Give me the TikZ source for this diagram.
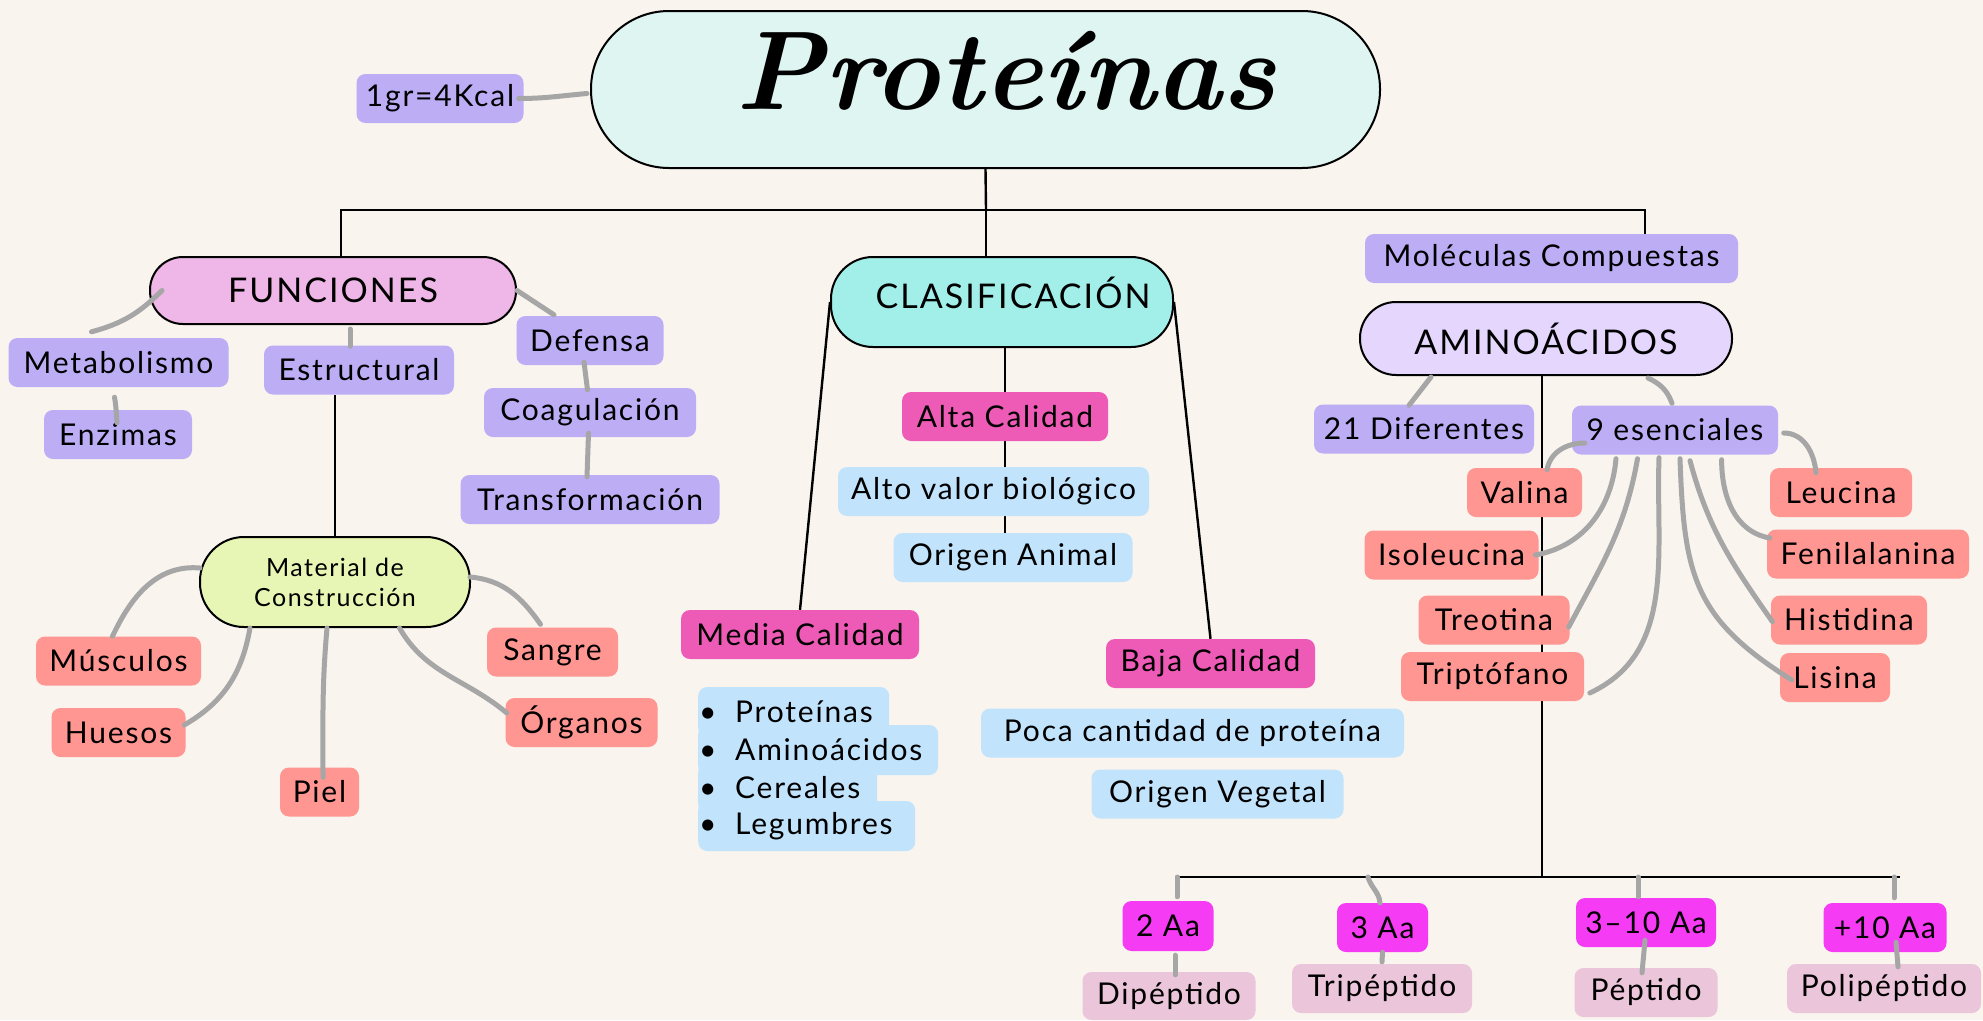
\documentclass[tikz,border=0pt]{standalone}
\usepackage{fontspec}
\setmainfont{Lato}[LetterSpace=6]
\newfontfamily\titlefont{Latin Modern Roman}
\usetikzlibrary{calc}
\definecolor{bgc}{HTML}{F9F4EE}
\definecolor{mint}{HTML}{DFF5F2}
\definecolor{orchid}{HTML}{EFB7E7}
\definecolor{aqua}{HTML}{A2EFEA}
\definecolor{lavender}{HTML}{E4D6FC}
\definecolor{lime}{HTML}{E7F6B4}
\definecolor{lilac}{HTML}{BCADF5}
\definecolor{salmon}{HTML}{FF9691}
\definecolor{rose}{HTML}{EE5BB7}
\definecolor{sky}{HTML}{C1E3FC}
\definecolor{fuchsia}{HTML}{F53BF3}
\definecolor{blush}{HTML}{EBC5D9}
\definecolor{greyline}{HTML}{A6A6A6}
\newcommand{\nudge}[3]{\hspace*{#1}\raisebox{#2}[\height][\depth]{#3}}
\newcommand{\listdot}{\makebox[36pt][l]{\textbullet}}
\pgfdeclarelayer{bg}
\pgfsetlayers{bg,main}
\tikzset{
  box/.style={rounded corners=9pt,inner sep=0pt,minimum height=49pt,
    font=\fontsize{30}{36}\selectfont},
  purplebox/.style={box,fill=lilac},
  salmonbox/.style={box,fill=salmon},
  pinkbox/.style={box,fill=rose},
  bluebox/.style={box,fill=sky},
  fuchsiabox/.style={box,fill=fuchsia},
  palebox/.style={box,fill=blush},
  capsule/.style={draw=black,line width=2pt,inner sep=0pt,
    font=\fontsize{34}{40}\selectfont},
  listrow/.style={bluebox,anchor=west,minimum height=50pt,inner xsep=1pt,align=left},
  gline/.style={draw=greyline,line width=5pt,line cap=round},
  bline/.style={draw=black,line width=2.4pt}
}

\begin{document}
\begin{tikzpicture}[x=1pt,y=1pt]
  \useasboundingbox (0,0) rectangle (1983,-1020);

  %--- Title -------------------------------------------------------------------
  \node[capsule,fill=mint,minimum width=789,minimum height=157,rounded corners=78] (title)
       at (985.5,-89.5) {\titlefont\bfseries\itshape\fontsize{112}{116}\selectfont\nudge{41pt}{19pt}{Proteínas}};
  \node[purplebox,minimum width=167] (kcal) at (440,-98.5) {1gr=4Kcal};

  %--- Main branches -----------------------------------------------------------
  \node[capsule,fill=orchid,minimum width=366,minimum height=67,rounded corners=33] (func)
       at (333,-290.5) {FUNCIONES};
  \node[capsule,fill=aqua,minimum width=342,minimum height=90,rounded corners=42] (clasif)
       at (1002,-302) {\nudge{22pt}{9pt}{CLASIFICACIÓN}};
  \node[purplebox,minimum width=373] (molec) at (1551.5,-258.5) {Moléculas Compuestas};
  \node[capsule,fill=lavender,minimum width=372,minimum height=73,rounded corners=36] (amino)
       at (1546,-338.5) {AMINOÁCIDOS};

  %--- Funciones ---------------------------------------------------------------
  \node[purplebox,minimum width=220] (metab) at (118.5,-362.5) {Metabolismo};
  \node[purplebox,minimum width=190] (estr)  at (359,-370) {Estructural};
  \node[purplebox,minimum width=147] (def)   at (590,-340.5) {Defensa};
  \node[purplebox,minimum width=148] (enz)   at (118,-434.5) {Enzimas};
  \node[purplebox,minimum width=212] (coag)  at (590,-412.5) {Coagulación};
  \node[purplebox,minimum width=259] (trans) at (590,-499.5) {Transformación};
  \node[capsule,fill=lime,minimum width=270,minimum height=90,rounded corners=44,align=center,
        font=\fontsize{25}{30}\selectfont] (mat) at (335,-582) {Material de\\Construcción};
  \node[salmonbox,minimum width=165] (musc) at (118.5,-661) {Músculos};
  \node[salmonbox,minimum width=134] (hues) at (118.5,-732.5) {Huesos};
  \node[salmonbox,minimum width=79]  (piel) at (319.5,-792) {Piel};
  \node[salmonbox,minimum width=131] (sang) at (552.5,-652) {Sangre};
  \node[salmonbox,minimum width=152] (org)  at (581.5,-722.5) {Órganos};

  %--- Clasificacion -----------------------------------------------------------
  \node[pinkbox,minimum width=206] (alta)    at (1005,-416.5) {Alta Calidad};
  \node[bluebox,minimum width=311] (alto)    at (993.5,-491.5) {Alto valor biológico};
  \node[bluebox,minimum width=239] (animal)  at (1013,-557.5) {Origen Animal};
  \node[pinkbox,minimum width=238] (media)   at (800,-634.5) {Media Calidad};
  \node[pinkbox,minimum width=209] (baja)    at (1210.5,-663.5) {Baja Calidad};
  \node[bluebox,minimum width=423] (poca)    at (1192.5,-733) {Poca cantidad de proteína};
  \node[bluebox,minimum width=252] (vegetal) at (1217.5,-794) {Origen Vegetal};
  \node[listrow,text width=189] (lprot)  at (698,-712) {\listdot Proteínas};
  \node[listrow,text width=238] (lamino) at (698,-750) {\listdot Aminoácidos};
  \node[listrow,text width=177] (lcer)   at (698,-788) {\listdot Cereales};
  \node[listrow,text width=215] (lleg)   at (698,-826) {\listdot Legumbres};

  %--- Aminoacidos -------------------------------------------------------------
  \node[purplebox,minimum width=220] (dif) at (1424,-429) {21 Diferentes};
  \node[purplebox,minimum width=206] (ess) at (1675,-430) {9 esenciales};
  \node[salmonbox,minimum width=115] (val)  at (1524.5,-492.5) {Valina};
  \node[salmonbox,minimum width=142] (leu)  at (1841,-492.5) {Leucina};
  \node[salmonbox,minimum width=174] (iso)  at (1451.5,-555) {Isoleucina};
  \node[salmonbox,minimum width=202] (feni) at (1868,-554) {Fenilalanina};
  \node[salmonbox,minimum width=151] (treo) at (1494,-620) {Treotina};
  \node[salmonbox,minimum width=156] (hist) at (1849,-620) {Histidina};
  \node[salmonbox,minimum width=183] (trip) at (1492.5,-676.5) {Triptófano};
  \node[salmonbox,minimum width=110] (lis)  at (1835,-677.5) {Lisina};

  \node[fuchsiabox,minimum width=91,minimum height=50] (aa2) at (1168,-926) {2 Aa};
  \node[fuchsiabox,minimum width=91]  (aa3)   at (1382.5,-927.5) {3 Aa};
  \node[fuchsiabox,minimum width=140] (aa310) at (1646,-922.5) {3–10 Aa};
  \node[fuchsiabox,minimum width=123] (aa10)  at (1885,-927.5) {+10 Aa};
  \node[palebox,minimum width=173,minimum height=48] (dip) at (1169,-996) {Dipéptido};
  \node[palebox,minimum width=180] (tri)  at (1382,-988.5) {Tripéptido};
  \node[palebox,minimum width=143] (pep)  at (1646,-992.5) {Péptido};
  \node[palebox,minimum width=194] (poli) at (1884,-988.5) {Polipéptido};

  \coordinate (hub)  at (986,-210);
  \coordinate (bar)  at (1542,-877);
  \coordinate (barL) at (1175,-877);
  \coordinate (barR) at (1900,-877);
  \coordinate (t2)   at (1177,-877);
  \coordinate (t3)   at (1368,-877);
  \coordinate (t310) at (1638,-877);
  \coordinate (t10)  at (1894,-877);

  %--- Black tree lines (behind the boxes) -------------------------------------
  \begin{pgfonlayer}{bg}
    \fill[bgc] (0,0) rectangle (1983,-1020);
    \draw[bline] (title.south) -- (hub);
    \draw[bline] ([xshift=8]func.north) |- (hub) -| ([xshift=93.5]molec.north);
    \draw[bline] (hub) -- (hub |- clasif.north);
    \draw[bline] (mat.north) -- (mat.north |- estr.south);
    \draw[bline] (clasif.west) -- (media.north);
    \draw[bline] (clasif.east) -- (baja.north);
    \draw[bline] (alta.north |- clasif.south) -- (alta.north);
    \draw[bline] (alta.south) -- (alta.south |- alto.north);
    \draw[bline] (alta.south |- alto.south) -- (alta.south |- animal.north);
    \draw[bline] (bar |- amino.south) -- (bar);
    \draw[bline] (barL) -- (barR);
  \end{pgfonlayer}

  %--- Grey links --------------------------------------------------------------
  \draw[gline] ([xshift=-5]kcal.east) to[out=0,in=185] ([xshift=-3,yshift=-4]title.west);
  \draw[gline] ([xshift=13]func.west) to[out=-135,in=15] ([xshift=-27,yshift=6]metab.north);
  \draw[gline] (func.east) -- ([xshift=-36,yshift=1]def.north);
  \draw[gline] ([xshift=17,yshift=-4]func.south) -- ([xshift=-9,yshift=-1]estr.north);
  \draw[gline] ([xshift=-4,yshift=-10]metab.south) to[out=-80,in=95] ([xshift=-1,yshift=-13]enz.north);
  \draw[gline] ([xshift=-6,yshift=3]def.south) -- ([xshift=-2.5,yshift=-2]coag.north);
  \draw[gline] ([xshift=-1.5,yshift=4]coag.south) -- ([xshift=-3,yshift=-2]trans.north);

  \draw[gline] ([xshift=1,yshift=14]mat.west) to[out=175,in=65] ([xshift=-6]musc.north);
  \draw[gline] ([xshift=-85]mat.south) to[out=-100,in=30] ([xshift=-1.5,yshift=7.5]hues.east);
  \draw[gline] ([xshift=-8]mat.south) to[out=-95,in=90] ([xshift=3.5,yshift=-10]piel.north);
  \draw[gline] ([xshift=-1,yshift=5]mat.east) to[out=-5,in=125] ([xshift=-12,yshift=3]sang.north);
  \draw[gline] ([xshift=64.5]mat.south) to[out=-60,in=140] ([xshift=1.5,yshift=9.5]org.west);

  \draw[gline] ([xshift=-115,yshift=-1]amino.south) -- ([xshift=-15,yshift=-1]dif.north);
  \draw[gline] ([xshift=102,yshift=-2]amino.south) to[out=-25,in=110] ([xshift=-3,yshift=2]ess.north);
  \draw[gline] ([xshift=13,yshift=-13]ess.west) to[out=180,in=80] ([xshift=22.5,yshift=-2]val.north);
  \draw[gline] ([xshift=5.5,yshift=-3]ess.east) to[out=0,in=95] ([xshift=-25,yshift=-5]leu.north);
  \draw[gline] ([xshift=-59,yshift=-4]ess.south) to[out=-95,in=10] ([xshift=-3.5]iso.east);
  \draw[gline] ([xshift=-37.5,yshift=-4]ess.south) to[out=-100,in=62] ([xshift=-1,yshift=-7]treo.east);
  \draw[gline] ([xshift=-16,yshift=-3]ess.south) to[out=-92,in=25] ([xshift=5.6,yshift=-16.5]trip.east);
  \draw[gline] ([xshift=5,yshift=-4]ess.south) to[out=-88,in=148,looseness=1.2] ([xshift=12,yshift=-2.5]lis.west);
  \draw[gline] ([xshift=15,yshift=-6]ess.south) to[out=-75,in=125] ([xshift=1.6,yshift=-1.7]hist.west);
  \draw[gline] ([xshift=46.6,yshift=-5]ess.south) to[out=-90,in=170] ([xshift=3,yshift=16]feni.west);

  \draw[gline] (t2) -- ([xshift=9,yshift=4]aa2.north);
  \draw[gline] (t3) to[out=-75,in=95] ([xshift=-2.5]aa3.north);
  \draw[gline] (t310) -- ([xshift=-8,yshift=1]aa310.north);
  \draw[gline] (t10) -- ([xshift=9,yshift=5]aa10.north);
  \draw[gline] ([xshift=7,yshift=-4]aa2.south) -- ([xshift=6,yshift=-3]dip.north);
  \draw[gline] (aa3.south) -- ([yshift=2]tri.north);
  \draw[gline] ([xshift=-1,yshift=7]aa310.south) -- ([xshift=-4,yshift=-5]pep.north);
  \draw[gline] ([xshift=11,yshift=10]aa10.south) -- ([xshift=14,yshift=-3]poli.north);
\end{tikzpicture}
\end{document}
